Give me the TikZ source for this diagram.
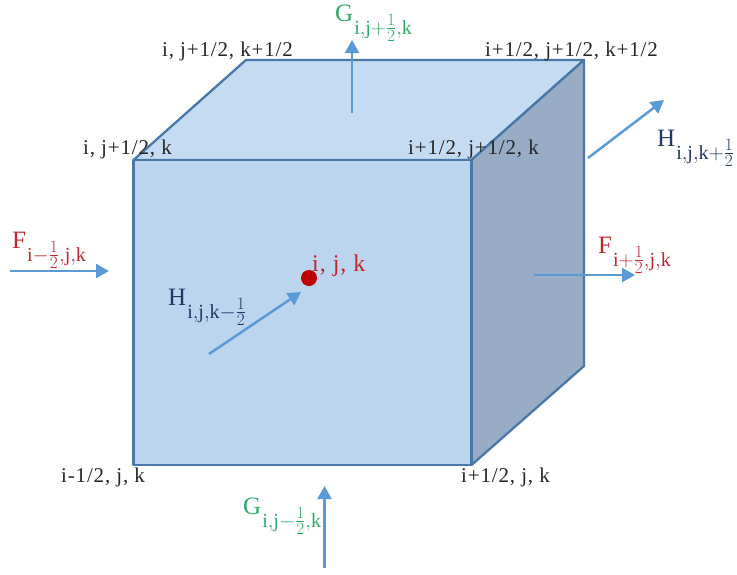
\documentclass[tikz,border=0pt]{standalone}
\usepackage{amsmath}
\usepackage{fontspec}
\setmainfont{Liberation Serif}
\setmathrm{Liberation Serif}
\newfontfamily\cornerfont[LetterSpace=4]{Liberation Serif}
\DeclareMathSizes{25}{25}{20}{16}
\usetikzlibrary{arrows.meta}
\definecolor{facefront}{HTML}{BBD5EE}
\definecolor{facetop}{HTML}{C5DBF1}
\definecolor{faceside}{HTML}{98ADC5}
\definecolor{edgeblue}{HTML}{4A78A8}
\definecolor{arrowblue}{HTML}{5B9BD5}
\definecolor{fluxred}{HTML}{C0272D}
\definecolor{fluxgreen}{HTML}{2EAA66}
\definecolor{fluxnavy}{HTML}{1F3864}
\newcommand{\fluxlab}[2]{\fontsize{25}{25}\selectfont$\mathrm{#1}\kern1pt\raisebox{-13pt}{$\scriptstyle #2$}$}

\begin{document}
\begin{tikzpicture}[x=1pt,y=-1pt,>={Triangle[length=13pt,width=14pt]},
  face/.style={draw=edgeblue,line width=2.3pt,line join=round},
  flux/.style={->,draw=arrowblue,fill=arrowblue,line width=2.5pt},
  corner/.style={anchor=base west,inner sep=0pt,text=black!85,font=\cornerfont\fontsize{21}{23}\selectfont},
  lab/.style={anchor=base west,inner sep=0pt}]
  \useasboundingbox (0,0) rectangle (737,574);
  \coordinate (fnw) at (133.5,160); \coordinate (fne) at (471.5,160);
  \coordinate (fsw) at (133.5,465); \coordinate (fse) at (471.5,465);
  \coordinate (bnw) at (246,60); \coordinate (bne) at (584,60);
  \coordinate (bse) at (584,366);
  \draw[face,fill=facetop] (fnw)--(bnw)--(bne)--(fne)--cycle;
  \draw[face,fill=faceside] (fne)--(bne)--(bse)--(fse)--cycle;
  \draw[face,fill=facefront] (fnw)--(fne)--(fse)--(fsw)--cycle;
  % arrow ends
  \coordinate (fwa) at (10,271); \coordinate (fwb) at (109,271);
  \coordinate (fea) at (534,275); \coordinate (feb) at (635,275);
  \coordinate (gta) at (352,113); \coordinate (gtb) at (352,40);
  \coordinate (gba) at (324.5,568); \coordinate (gbb) at (324.5,486);
  \coordinate (hba) at (588,158); \coordinate (hbb) at (664,100);
  \coordinate (hfa) at (209,354); \coordinate (hfb) at (301,292);
  \draw[flux] (fwa)--(fwb); \draw[flux] (fea)--(feb);
  \draw[flux] (gta)--(gtb); \draw[flux] (gba)--(gbb);
  \draw[flux] (hba)--(hbb); \draw[flux] (hfa)--(hfb);
  \node[circle,fill=red!75!black,inner sep=0pt,minimum size=16pt] (dot) at (309,278) {};
  \node[lab,text=fluxred,font=\cornerfont\fontsize{24}{26}\selectfont] (cen) at (312,271) {i, j, k};
  % corner labels
  \node[corner] (c1) at (162,56) {i, j+1/2, k+1/2};
  \node[corner] (c2) at (485,56) {i+1/2, j+1/2, k+1/2};
  \node[corner] (c3) at (83,154) {i, j+1/2, k};
  \node[corner] (c4) at (408,154) {i+1/2, j+1/2, k};
  \node[corner] (c5) at (61,482) {i-1/2, j, k};
  \node[corner] (c6) at (461,482) {i+1/2, j, k};
  % flux labels
  \node[lab,text=fluxred] (fw) at (12,248) {\fluxlab{F}{\mathrm{i}-\frac{1}{2},\mathrm{j},\mathrm{k}}};
  \node[lab,text=fluxred] (fe) at (598,253) {\fluxlab{F}{\mathrm{i}+\frac{1}{2},\mathrm{j},\mathrm{k}}};
  \node[lab,text=fluxgreen] (gt) at (335,21) {\fluxlab{G}{\mathrm{i},\mathrm{j}+\frac{1}{2},\mathrm{k}}};
  \node[lab,text=fluxgreen] (gb) at (243,514) {\fluxlab{G}{\mathrm{i},\mathrm{j}-\frac{1}{2},\mathrm{k}}};
  \node[lab,text=fluxnavy] (hb) at (657,146) {\fluxlab{H}{\mathrm{i},\mathrm{j},\mathrm{k}+\frac{1}{2}}};
  \node[lab,text=fluxnavy] (hf) at (168,305) {\fluxlab{H}{\mathrm{i},\mathrm{j},\mathrm{k}-\frac{1}{2}}};
\end{tikzpicture}
\end{document}
